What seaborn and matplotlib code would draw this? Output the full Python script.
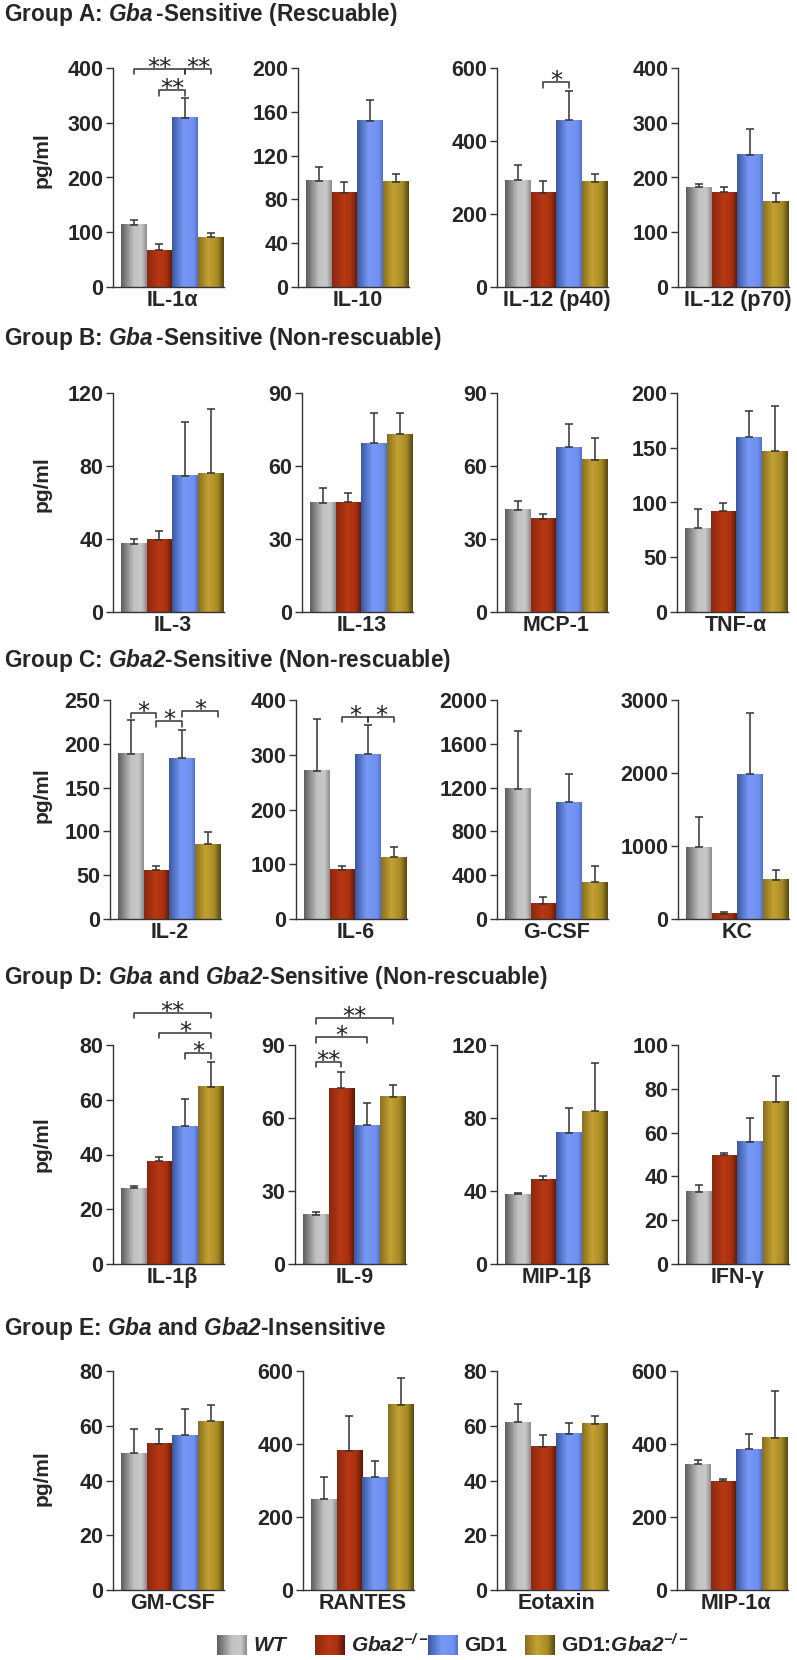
import numpy as np
import pandas as pd
import seaborn as sns
import matplotlib.pyplot as plt
from matplotlib.colors import to_rgb

# ---- data ----
groups = ["WT", "Gba2-/-", "GD1", "GD1:Gba2-/-"]
legend_labels = [r"$\mathsf{WT}$", r"$\mathsf{Gba2}^{\mathsf{-/-}}$", "GD1", r"GD1:$\mathsf{Gba2}^{\mathsf{-/-}}$"]

titles = [
    r"Group A: $\mathsf{Gba}\,$-Sensitive (Rescuable)",
    r"Group B: $\mathsf{Gba}\,$-Sensitive (Non-rescuable)",
    r"Group C: $\mathsf{Gba2}$-Sensitive (Non-rescuable)",
    r"Group D: $\mathsf{Gba}$ and $\mathsf{Gba2}$-Sensitive (Non-rescuable)",
    r"Group E: $\mathsf{Gba}$ and $\mathsf{Gba2}$-Insensitive",
]

cytokines_a = ["IL-1α", "IL-10", "IL-12 (p40)", "IL-12 (p70)"]
means_a = [[114, 67, 309, 91], [97, 86, 152, 96], [292, 258, 457, 288], [182, 173, 242, 156]]
errs_a = [[8, 12, 37, 8], [13, 10, 19, 7], [41, 32, 80, 21], [7, 10, 47, 16]]
yticks_a = [[0, 100, 200, 300, 400], [0, 40, 80, 120, 160, 200], [0, 200, 400, 600], [0, 100, 200, 300, 400]]

cytokines_b = ["IL-3", "IL-13", "MCP-1", "TNF-α"]
means_b = [[37.3, 39.6, 74.7, 76], [44.9, 45.1, 69.3, 73], [42, 38.3, 67.8, 62.6], [76.4, 92.2, 159.8, 146.7]]
errs_b = [[2.7, 4.6, 29.5, 35], [6, 3.7, 12.5, 8.8], [3.7, 1.9, 9.5, 9], [18, 7.3, 24.2, 41.3]]
yticks_b = [[0, 40, 80, 120], [0, 30, 60, 90], [0, 30, 60, 90], [0, 50, 100, 150, 200]]

cytokines_c = ["IL-2", "IL-6", "G-CSF", "KC"]
means_c = [[188.4, 55.5, 183.5, 85.5], [270.5, 90, 301, 112.5], [1190, 137, 1068, 337], [983, 73, 1985, 537]]
errs_c = [[38.6, 5.3, 32.3, 13.3], [94.2, 6, 53, 18.2], [530, 60, 252, 149], [415, 18, 833, 132]]
yticks_c = [[0, 50, 100, 150, 200, 250], [0, 100, 200, 300, 400], [0, 400, 800, 1200, 1600, 2000], [0, 1000, 2000, 3000]]

cytokines_d = ["IL-1β", "IL-9", "MIP-1β", "IFN-γ"]
means_d = [[27.7, 37.6, 50.4, 64.7], [20.3, 72.2, 57.1, 68.8], [38.2, 46.2, 71.8, 83.6], [33.1, 49.7, 55.8, 74.2]]
errs_d = [[0.8, 1.4, 9.8, 9.2], [0.9, 6.6, 8.9, 4.8], [0.8, 2.2, 13.7, 26.6], [3.1, 1.1, 10.8, 11.7]]
yticks_d = [[0, 20, 40, 60, 80], [0, 30, 60, 90], [0, 40, 80, 120], [0, 20, 40, 60, 80, 100]]

cytokines_e = ["GM-CSF", "RANTES", "Eotaxin", "MIP-1α"]
means_e = [[49.9, 53.5, 56.6, 61.7], [249, 381, 309, 507], [61.3, 52.4, 57, 60.8], [344, 298, 385, 417]]
errs_e = [[8.8, 5.2, 9.4, 5.8], [60, 96, 45, 73], [6.5, 4.1, 4, 2.7], [13, 6, 42, 128]]
yticks_e = [[0, 20, 40, 60, 80], [0, 200, 400, 600], [0, 20, 40, 60, 80], [0, 200, 400, 600]]

# significance brackets: (from bar, to bar, height, stars)
brackets = {
    "IL-1α": [(0, 2, 399, "**"), (2, 3, 399, "**"), (1, 2, 360, "**")],
    "IL-12 (p40)": [(1, 2, 561, "*")],
    "IL-2": [(0, 1, 235.6, "*"), (1, 2, 226, "*"), (2, 3.4, 237.5, "*")],
    "IL-6": [(1, 2, 369.6, "*"), (2, 3, 369.6, "*")],
    "IL-1β": [(0, 3, 91.8, "**"), (1, 3, 84.5, "*"), (2, 3, 77, "*")],
    "IL-9": [(0, 3, 101, "**"), (0, 2, 93.2, "*"), (0, 1, 83.2, "**")],
}

rows = [
    (cytokines_a, means_a, errs_a, yticks_a),
    (cytokines_b, means_b, errs_b, yticks_b),
    (cytokines_c, means_c, errs_c, yticks_c),
    (cytokines_d, means_d, errs_d, yticks_d),
    (cytokines_e, means_e, errs_e, yticks_e),
]

# shading of the "cylinder" bars: (position across bar, colour)
shades = [
    [(0, "#5e5e5e"), (0.5, "#c2c2c2"), (0.8, "#c8c8c8"), (1, "#8c8c8c")],
    [(0, "#8c2810"), (0.45, "#b83812"), (0.75, "#a83010"), (1, "#561806")],
    [(0, "#3a58a0"), (0.45, "#7898f6"), (0.85, "#7090f0"), (1, "#5070c8")],
    [(0, "#8a7020"), (0.4, "#c4a232"), (0.75, "#a88a26"), (1, "#584810")],
]
flat = [s[1][1] for s in shades]

# ---- layout in pixels ----
W, H = 797, 1660
row_tops = [68, 393, 700, 1045, 1371]
col_lefts = [[113, 298, 497, 678], [113, 302, 497, 677], [110, 296, 497, 678],
             [113, 295, 497, 678], [113, 303, 497, 677]]
title_y = [15, 338, 660, 977, 1328]
ylabel_y = [160, 484, 795, 1144, 1478]
ax_w, ax_h = 111, 219

sns.set_style("white")
plt.rcParams["font.family"] = ["Liberation Sans", "DejaVu Sans"]
plt.rcParams["font.weight"] = "bold"
plt.rcParams["mathtext.fontset"] = "custom"
plt.rcParams["mathtext.rm"] = "Liberation Sans:bold"
plt.rcParams["mathtext.it"] = "Liberation Sans:italic:bold"
plt.rcParams["mathtext.sf"] = "Liberation Sans:italic:bold"
plt.rcParams["mathtext.bf"] = "Liberation Sans:bold"


def grad(stops, n=64):
    pos = np.linspace(0, 1, n)
    sp = [s[0] for s in stops]
    cols = [to_rgb(s[1]) for s in stops]
    return np.stack([np.interp(pos, sp, [c[k] for c in cols]) for k in range(3)], axis=-1)[None, :, :]


fig = plt.figure(figsize=(W / 100, H / 100), dpi=100)

for r, (names, means, errs, yticks) in enumerate(rows):
    for c in range(4):
        left = col_lefts[r][c]
        ax = fig.add_axes([left / W, 1 - (row_tops[r] + ax_h) / H, ax_w / W, ax_h / H])
        df = pd.DataFrame({"group": groups, "value": means[c]})
        sns.barplot(data=df, x="group", y="value", hue="group", palette=flat,
                    width=1.0, errorbar=None, legend=False, ax=ax, zorder=2)
        for p in ax.patches:
            k = int(round(p.get_x() + p.get_width() / 2))
            ax.imshow(grad(shades[k]), extent=(p.get_x(), p.get_x() + p.get_width(), 0, p.get_height()),
                      aspect="auto", interpolation="bilinear", zorder=2.5)
        ax.errorbar(np.arange(4), means[c], yerr=[np.zeros(4), errs[c]], fmt="none",
                    ecolor="#333333", elinewidth=1.1, capsize=3, capthick=1.1, zorder=3)
        ax.set_xlim(-0.8, 3.5)
        ax.set_ylim(0, yticks[c][-1])
        ax.set_yticks(yticks[c])
        ax.set_yticklabels([str(t) for t in yticks[c]])
        ax.set_xticks([1.5])
        ax.set_xticklabels([names[c]])
        ax.set_xlabel("")
        ax.set_ylabel("")
        sns.despine(ax=ax)
        for s in ("left", "bottom"):
            ax.spines[s].set_color("#333333")
            ax.spines[s].set_linewidth(1.0)
        ax.tick_params(axis="y", direction="out", length=5, width=1, color="#333333",
                       labelsize=15.5, pad=2, left=True)
        ax.tick_params(axis="x", length=0, labelsize=15.5, pad=2)
        ymax = yticks[c][-1]
        leg = 0.026 * ymax
        for (i, j, y, txt) in brackets.get(names[c], []):
            ax.plot([i, i, j, j], [y - leg, y, y, y - leg], color="#333333", lw=1.1, clip_on=False, zorder=4)
            ax.annotate(txt, xy=((i + j) / 2, y), xytext=(0, -4.5), textcoords="offset points",
                        ha="center", va="baseline", fontsize=17.5, fontweight="normal",
                        family="DejaVu Sans", color="#222222", annotation_clip=False)

# overlay in pixel coordinates for titles, y labels and legend
ov = fig.add_axes([0, 0, 1, 1])
ov.set_facecolor("none")
for r in range(5):
    ov.text(4, title_y[r], titles[r], fontsize=16.3, fontweight="bold", ha="left", va="center")
    ov.text(42, ylabel_y[r], "pg/ml", fontsize=15, fontweight="bold", rotation=90, ha="center", va="center")

leg_x = [217, 315, 428, 525]
for k in range(4):
    ov.imshow(grad(shades[k]), extent=(leg_x[k], leg_x[k] + 30, 1655, 1635), aspect="auto",
              interpolation="bilinear")
    ov.text(leg_x[k] + 36, 1645, legend_labels[k], fontsize=15, fontweight="bold", ha="left", va="center")
ov.set_xlim(0, W)
ov.set_ylim(H, 0)
ov.axis("off")

fig.savefig("out.png", dpi=100, facecolor="white")
